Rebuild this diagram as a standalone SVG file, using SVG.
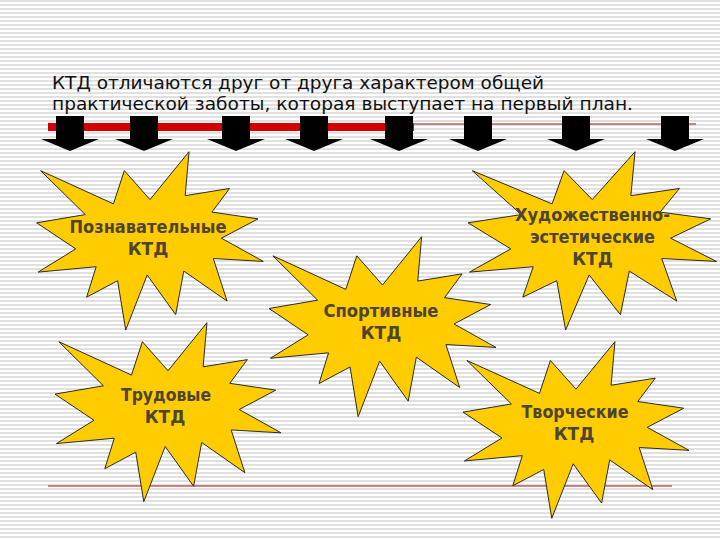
<svg xmlns="http://www.w3.org/2000/svg" width="720" height="540" viewBox="0 0 720 540">
<defs>
<pattern id="stripes" x="0" y="0" width="8" height="4" patternUnits="userSpaceOnUse">
<rect x="0" y="0" width="8" height="4" fill="#ffffff"/>
<rect x="0" y="0" width="8" height="2" fill="#e0e0e0"/>
</pattern>
<path id="arrow" d="M-14,0 H14 V23 H29 L0,35 L-29,23 H-14 Z"/>
</defs>
<style>
.star{fill:#ffcc00;stroke:#2a2a2a;stroke-width:1;vector-effect:non-scaling-stroke;stroke-linejoin:miter}
.lbl{font-family:"DejaVu Sans","Verdana",sans-serif;font-weight:bold;font-size:17px;fill:#4d4433;text-anchor:middle}
.title{font-family:"DejaVu Sans","Verdana",sans-serif;font-size:18px;fill:#111111}
.arr{fill:#000000}
</style>
<rect width="720" height="540" fill="url(#stripes)"/>

<g id="title">
<text class="title" x="52" y="88.5" textLength="492" lengthAdjust="spacingAndGlyphs">КТД отличаются друг от друга характером общей</text>
<text class="title" x="52" y="110" textLength="581" lengthAdjust="spacingAndGlyphs">практической заботы, которая выступает на первый план.</text>
</g>

<g id="connectors">
<rect x="48" y="123" width="366" height="8" fill="#d40000"/>
<line x1="414" y1="124" x2="696" y2="124" stroke="#a31515" stroke-width="1"/>
<line x1="48" y1="486" x2="672" y2="486" stroke="#a31515" stroke-width="1"/>
<g class="arr">
<use href="#arrow" transform="translate(70,116)"/>
<use href="#arrow" transform="translate(144,116)"/>
<use href="#arrow" transform="translate(236,116)"/>
<use href="#arrow" transform="translate(314,116)"/>
<use href="#arrow" transform="translate(399,116)"/>
<use href="#arrow" transform="translate(478,116)"/>
<use href="#arrow" transform="translate(576,116)"/>
<use href="#arrow" transform="translate(675,116)"/>
</g>
</g>

<g id="star-poznavatelnye">
<path class="star" transform="translate(36.7,151.7) scale(0.010491,0.008255)" d="M10800,5800 L14522,0 L14155,5325 L18380,4457 L16702,7315 L21097,8137 L17607,10475 L21600,13290 L16837,12942 L18145,18095 L14020,14457 L13247,19737 L10532,14935 L8485,21600 L7715,15627 L4762,17617 L5667,13937 L135,14587 L3722,11775 L0,8615 L4627,7617 L370,2295 L7312,6320 L8352,2295 Z"/>
<text class="lbl" x="148" y="233" textLength="157" lengthAdjust="spacingAndGlyphs">Познавательные</text>
<text class="lbl" x="148" y="255">КТД</text>
</g>

<g id="star-hudozhestvenno">
<path class="star" transform="translate(468,151.7) scale(0.011505,0.008255)" d="M10800,5800 L14522,0 L14155,5325 L18380,4457 L16702,7315 L21097,8137 L17607,10475 L21600,13290 L16837,12942 L18145,18095 L14020,14457 L13247,19737 L10532,14935 L8485,21600 L7715,15627 L4762,17617 L5667,13937 L135,14587 L3722,11775 L0,8615 L4627,7617 L370,2295 L7312,6320 L8352,2295 Z"/>
<text class="lbl" x="592.5" y="221" textLength="155" lengthAdjust="spacingAndGlyphs">Художественно-</text>
<text class="lbl" x="592.5" y="243" textLength="125" lengthAdjust="spacingAndGlyphs">эстетические</text>
<text class="lbl" x="592.5" y="265">КТД</text>
</g>

<g id="star-sportivnye">
<path class="star" transform="translate(269,236.7) scale(0.010509,0.008333)" d="M10800,5800 L14522,0 L14155,5325 L18380,4457 L16702,7315 L21097,8137 L17607,10475 L21600,13290 L16837,12942 L18145,18095 L14020,14457 L13247,19737 L10532,14935 L8485,21600 L7715,15627 L4762,17617 L5667,13937 L135,14587 L3722,11775 L0,8615 L4627,7617 L370,2295 L7312,6320 L8352,2295 Z"/>
<text class="lbl" x="381" y="317" textLength="115" lengthAdjust="spacingAndGlyphs">Спортивные</text>
<text class="lbl" x="381" y="339">КТД</text>
</g>

<g id="star-trudovye">
<path class="star" transform="translate(55,322.7) scale(0.010463,0.008287)" d="M10800,5800 L14522,0 L14155,5325 L18380,4457 L16702,7315 L21097,8137 L17607,10475 L21600,13290 L16837,12942 L18145,18095 L14020,14457 L13247,19737 L10532,14935 L8485,21600 L7715,15627 L4762,17617 L5667,13937 L135,14587 L3722,11775 L0,8615 L4627,7617 L370,2295 L7312,6320 L8352,2295 Z"/>
<text class="lbl" x="166" y="401" textLength="90" lengthAdjust="spacingAndGlyphs">Трудовые</text>
<text class="lbl" x="165" y="423">КТД</text>
</g>

<g id="star-tvorcheskie">
<path class="star" transform="translate(463,341.7) scale(0.010463,0.008176)" d="M10800,5800 L14522,0 L14155,5325 L18380,4457 L16702,7315 L21097,8137 L17607,10475 L21600,13290 L16837,12942 L18145,18095 L14020,14457 L13247,19737 L10532,14935 L8485,21600 L7715,15627 L4762,17617 L5667,13937 L135,14587 L3722,11775 L0,8615 L4627,7617 L370,2295 L7312,6320 L8352,2295 Z"/>
<text class="lbl" x="575" y="418" textLength="107" lengthAdjust="spacingAndGlyphs">Творческие</text>
<text class="lbl" x="574" y="440">КТД</text>
</g>
</svg>
